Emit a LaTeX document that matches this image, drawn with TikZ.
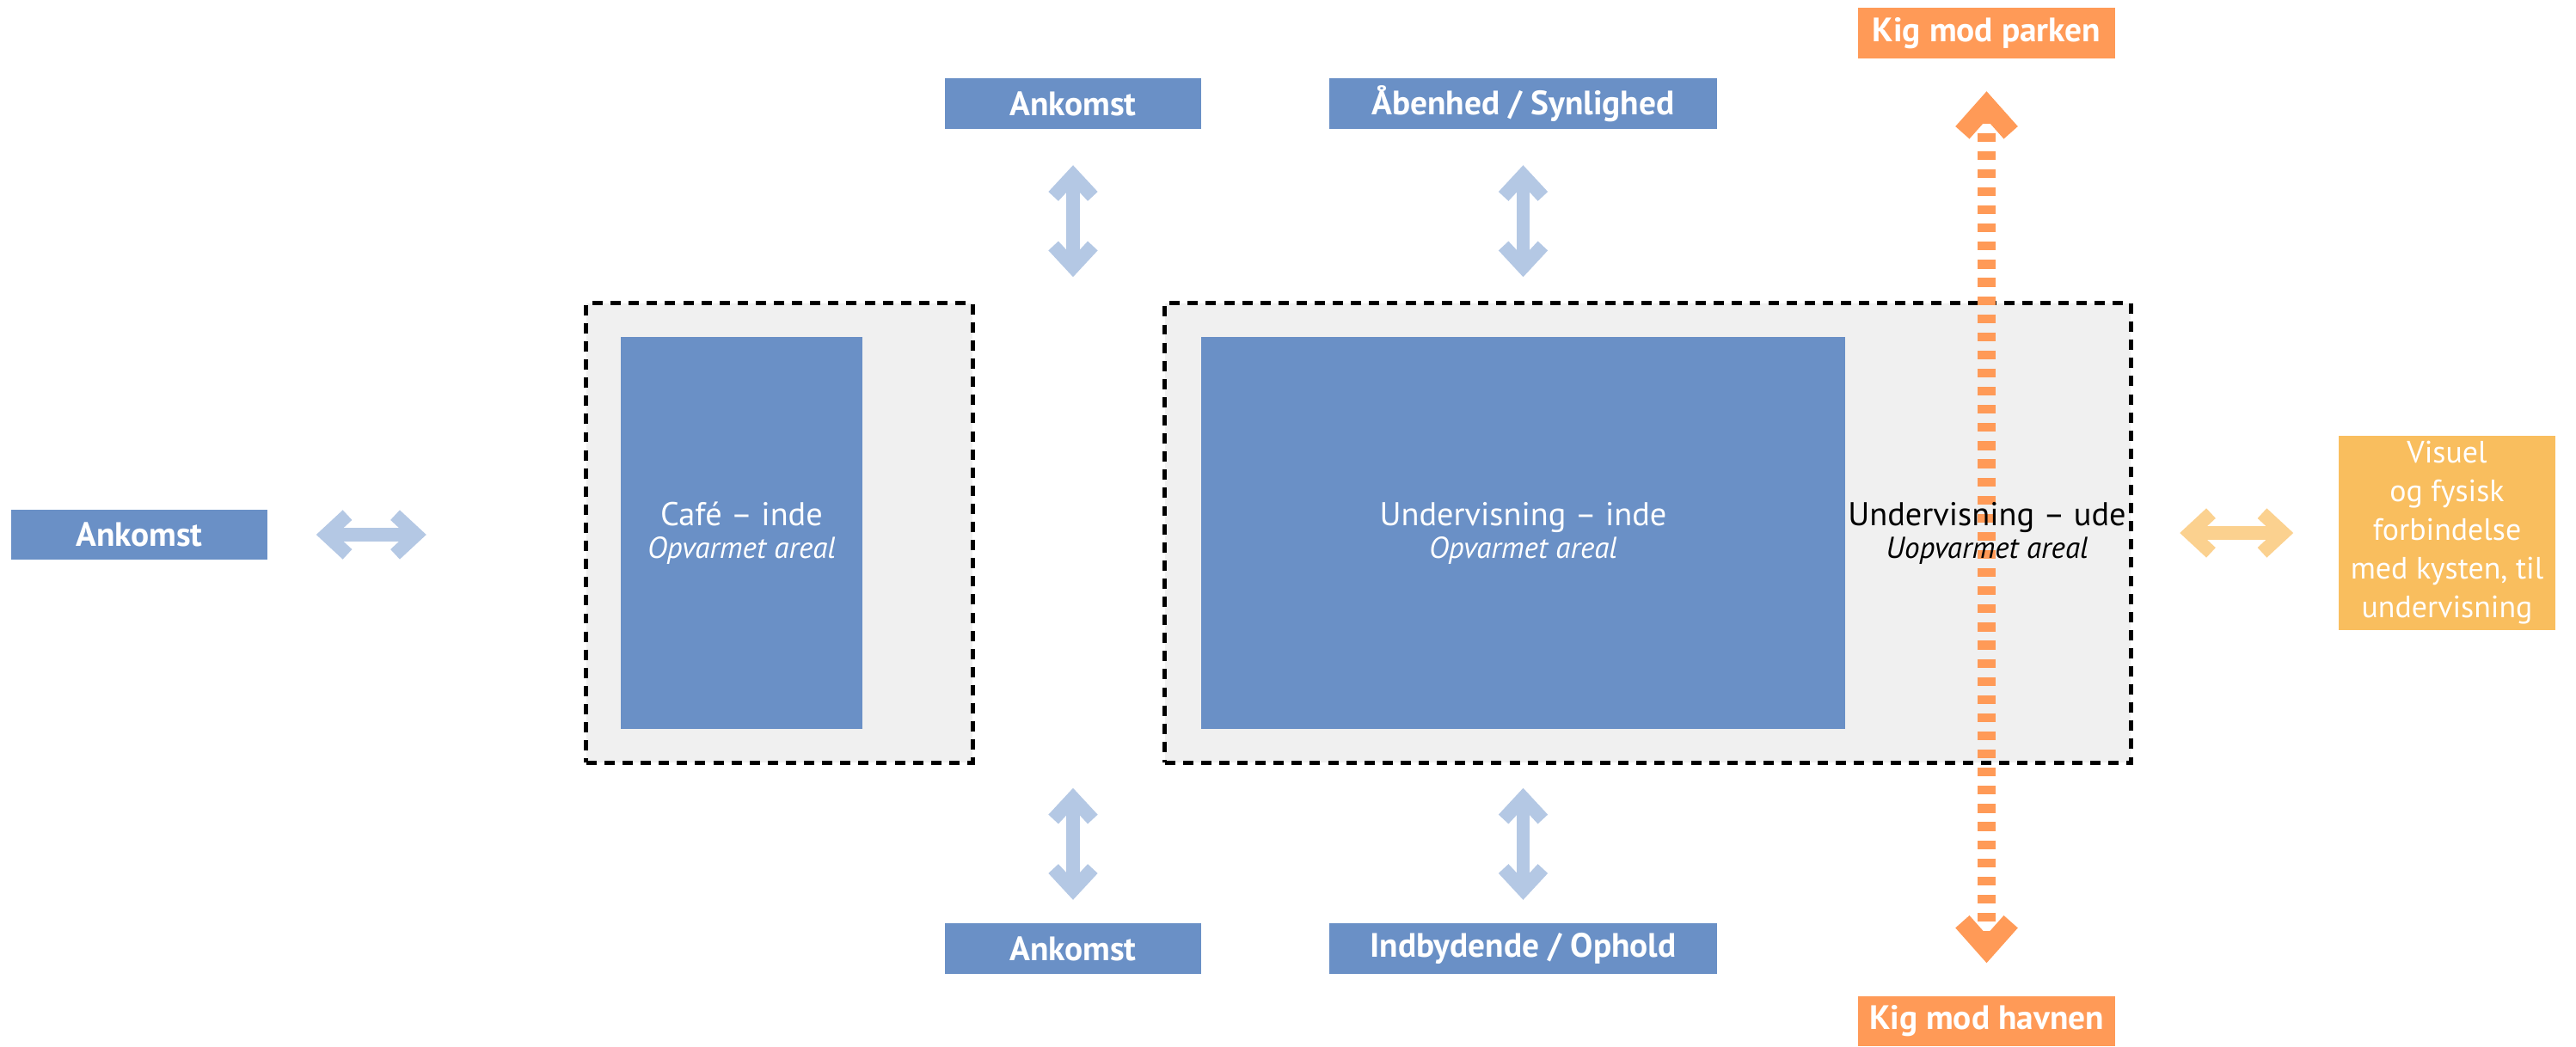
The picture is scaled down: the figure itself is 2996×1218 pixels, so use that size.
\documentclass[tikz,border=0pt]{standalone}
\usepackage{fontspec}
\setmainfont{PT Sans}
\usetikzlibrary{arrows.meta}

\definecolor{blokblaa}{HTML}{6A90C6}
\definecolor{lyseblaa}{HTML}{B4C8E4}
\definecolor{zonegraa}{HTML}{F0F0F0}
\definecolor{kigorange}{HTML}{FF9A57}
\definecolor{sand}{HTML}{F9BE5E}
\definecolor{lysesand}{HTML}{FBD18F}

\newcommand{\brodtekst}{\fontsize{10.9}{10.8}\selectfont}
\newcommand{\undertekst}{\fontsize{10}{10.8}\selectfont\itshape}

\begin{document}
\begin{tikzpicture}[x=0.01cm, y=-0.01cm,
    skilt/.style={fill=blokblaa, text=white, font=\bfseries\fontsize{11.2}{12}\selectfont, minimum height=0.58cm, inner sep=0pt},
    kigskilt/.style={skilt, fill=kigorange},
    zone/.style={draw=black, fill=zonegraa, line width=1.4pt, dash pattern=on 3.4pt off 2.6pt, inner sep=0pt},
    rum/.style={fill=blokblaa, text=white, font=\brodtekst, align=center, inner sep=0pt},
    blaapil/.style={draw=lyseblaa, line width=4.5pt, {Straight Barb[sharp, length=7pt, width=13pt]}-{Straight Barb[sharp, length=7pt, width=13pt]}},
    sandpil/.style={blaapil, draw=lysesand},
    kigpil/.style={draw=kigorange, line width=6.2pt, dash pattern=on 2.9pt off 3.1pt, {Straight Barb[sharp, length=9pt, width=16pt]}-{Straight Barb[sharp, length=9pt, width=16pt]}}]
    \useasboundingbox (0,0) rectangle (2996,1218);

    % Zoner
    \node[zone, minimum width=4.49cm, minimum height=5.34cm] (cafezone) at (906.5,620) {};
    \node[zone, minimum width=11.23cm, minimum height=5.34cm] (underzone) at (1916.5,620) {};
    \node[rum, minimum width=2.81cm, minimum height=4.56cm] (cafe) at (862.5,620)
        {Café – inde\\{\undertekst Opvarmet areal}};
    \node[rum, minimum width=7.49cm, minimum height=4.56cm] (inde) at (1771.5,620)
        {Undervisning – inde\\{\undertekst Opvarmet areal}};

    % Skilte
    \node[skilt, minimum width=2.98cm] (ankvest) at (162,622) {Ankomst};
    \node[skilt, minimum width=2.98cm] (ankop) at (1248,120.5) {Ankomst};
    \node[skilt, minimum width=4.51cm] (aaben) at (1771.5,120.5) {Åbenhed / Synlighed};
    \node[skilt, minimum width=2.98cm] (ankned) at (1248,1103.5) {Ankomst};
    \node[skilt, minimum width=4.51cm] (indbyd) at (1771.5,1103.5) {Indbydende / Ophold};
    \node[kigskilt, minimum width=2.99cm] (parken) at (2310.5,38.5) {Kig mod parken};
    \node[kigskilt, minimum width=2.99cm] (havnen) at (2310.5,1188) {Kig mod havnen};
    \node[fill=sand, text=white, font=\fontsize{10.2}{12.8}\selectfont, align=center,
        minimum width=2.52cm, minimum height=2.26cm, inner sep=0pt] (kyst) at (2846,620)
        {Visuel\\og fysisk\\forbindelse\\med kysten, til\\undervisning};

    % Pile
    \draw[blaapil] (ankvest.east) ++(56,0) -- ++(128,0);
    \draw[blaapil] (ankop.south) ++(0,42) -- ++(0,130);
    \draw[blaapil] (aaben.south) ++(0,42) -- ++(0,130);
    \draw[blaapil] (ankned.north) ++(0,-27) -- ++(0,-130);
    \draw[blaapil] (indbyd.north) ++(0,-27) -- ++(0,-130);
    \draw[sandpil] (kyst.west) ++(-52,0) -- ++(-132,0);
    \draw[kigpil, shorten <=0.38cm, shorten >=0.38cm] (parken) -- (havnen);

    \node[font=\brodtekst, align=center, inner sep=0pt] (ude) at (2311,620)
        {Undervisning – ude\\{\undertekst Uopvarmet areal}};
\end{tikzpicture}
\end{document}
